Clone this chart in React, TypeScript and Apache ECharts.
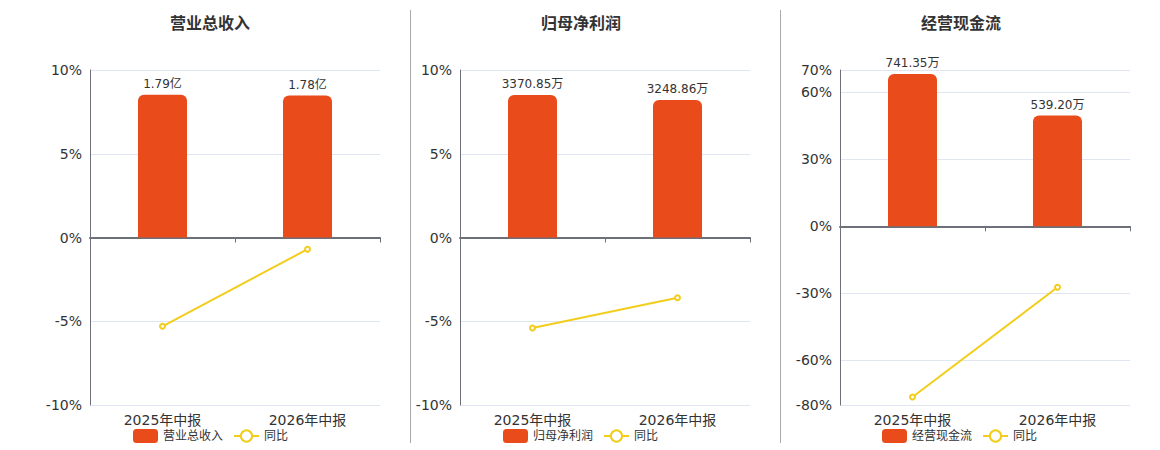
import React, { useEffect, useRef } from "react";
import * as echarts from "echarts";

const categories = ["2025年中报", "2026年中报"];

const revenueName = "营业总收入";
const revenueValues = [1.79, 1.78];
const revenueYoY = [-5.3, -0.7];

const profitName = "归母净利润";
const profitValues = [3370.85, 3248.86];
const profitYoY = [-5.4, -3.6];

const cashName = "经营现金流";
const cashValues = [741.35, 539.2];
const cashYoY = [-76.4, -27.3];

const yoyName = "同比";

const BAR_COLOR = "#E94B1B";
const LINE_COLOR = "#F2CD1C";
const TEXT_COLOR = "#333";
const AXIS_COLOR = "#6E7079";
const SPLIT_COLOR = "#E0E6F1";
const FONT = "'DejaVu Sans', 'Noto Sans CJK SC', sans-serif";

type Panel = {
  name: string;
  values: number[];
  yoy: number[];
  unit: string;
  left: number;
  titleLeft: number;
  legendLeft: number;
  pctMin: number;
  pctMax: number;
  pctInterval?: number;
  barMin: number;
  barMax: number;
};

const panels: Panel[] = [
  {
    name: revenueName, values: revenueValues, yoy: revenueYoY, unit: "亿",
    left: 90, titleLeft: 165, legendLeft: 128,
    pctMin: -10, pctMax: 10, pctInterval: 5, barMin: -2.1, barMax: 2.1,
  },
  {
    name: profitName, values: profitValues, yoy: profitYoY, unit: "万",
    left: 460, titleLeft: 536, legendLeft: 498,
    pctMin: -10, pctMax: 10, pctInterval: 5, barMin: -3960, barMax: 3960,
  },
  {
    name: cashName, values: cashValues, yoy: cashYoY, unit: "万",
    left: 840, titleLeft: 916, legendLeft: 877,
    pctMin: -80, pctMax: 70, barMin: -869.6, barMax: 760.9,
  },
];

function buildOption() {
  const grid: any[] = [];
  const xAxis: any[] = [];
  const yAxis: any[] = [];
  const series: any[] = [];
  const title: any[] = [];
  const legend: any[] = [];

  panels.forEach((p, i) => {
    grid.push({ left: p.left, top: 70, width: 290, height: 335, containLabel: false });
    title.push({
      text: p.name,
      left: p.titleLeft,
      top: 10,
      textStyle: { fontSize: 16, fontWeight: "bold", color: TEXT_COLOR, fontFamily: FONT },
    });
    legend.push({
      data: [p.name, yoyName],
      left: p.legendLeft,
      top: 424,
      itemWidth: 25,
      itemHeight: 14,
      itemGap: 10,
      textStyle: { fontSize: 12, color: TEXT_COLOR, fontFamily: FONT },
    });
    xAxis.push({
      type: "category",
      gridIndex: i,
      data: categories,
      position: "bottom",
      axisLine: { show: true, onZero: true, lineStyle: { color: AXIS_COLOR, width: 2 } },
      axisTick: { show: true, lineStyle: { color: AXIS_COLOR } },
      axisLabel: { show: false },
    });
    xAxis.push({
      type: "category",
      gridIndex: i,
      data: categories,
      position: "bottom",
      axisLine: { show: false, onZero: false },
      axisTick: { show: false },
      axisLabel: { show: true, fontSize: 14, color: TEXT_COLOR, margin: 8, fontFamily: FONT },
    });
    const pctAxis: any = {
      type: "value",
      gridIndex: i,
      min: p.pctMin,
      max: p.pctMax,
      position: "left",
      axisLine: { show: true, lineStyle: { color: AXIS_COLOR, width: 1 } },
      axisTick: { show: false },
      axisLabel: { fontSize: 14, color: TEXT_COLOR, formatter: "{value}%", fontFamily: FONT },
      splitLine: { show: true, lineStyle: { color: SPLIT_COLOR } },
    };
    if (p.pctInterval) pctAxis.interval = p.pctInterval;
    yAxis.push(pctAxis);
    yAxis.push({
      type: "value",
      gridIndex: i,
      min: p.barMin,
      max: p.barMax,
      show: false,
      splitLine: { show: false },
    });
    series.push({
      name: p.name,
      type: "bar",
      xAxisIndex: i * 2,
      yAxisIndex: i * 2 + 1,
      data: p.values,
      barWidth: 49,
      itemStyle: { color: BAR_COLOR, borderRadius: [6, 6, 0, 0] },
      label: {
        show: true,
        position: "top",
        fontSize: 12,
        color: TEXT_COLOR,
        fontFamily: FONT,
        formatter: (d: any) => d.value.toFixed(2) + p.unit,
      },
    });
    series.push({
      name: yoyName,
      type: "line",
      xAxisIndex: i * 2,
      yAxisIndex: i * 2,
      data: p.yoy,
      symbol: "emptyCircle",
      symbolSize: 5,
      z: 5,
      lineStyle: { color: LINE_COLOR, width: 2 },
      itemStyle: { color: LINE_COLOR, borderWidth: 1.5 },
    });
  });

  const graphic = [410.5, 780.5].map((x) => ({
    type: "line",
    shape: { x1: x, y1: 10, x2: x, y2: 443 },
    style: { stroke: "#AAAAAA", lineWidth: 1 },
  }));

  return {
    animation: false,
    backgroundColor: "#fff",
    textStyle: { fontFamily: FONT },
    title,
    legend,
    grid,
    xAxis,
    yAxis,
    series,
    graphic,
  };
}

export default function App() {
  const ref = useRef<HTMLDivElement>(null);
  useEffect(() => {
    if (!ref.current) return;
    const chart = echarts.init(ref.current, undefined, { renderer: "svg" });
    chart.setOption(buildOption() as any);
    return () => chart.dispose();
  }, []);
  return (
    <div
      ref={ref}
      style={{ position: "fixed", left: 0, top: 0, width: 1160, height: 450 }}
    />
  );
}
